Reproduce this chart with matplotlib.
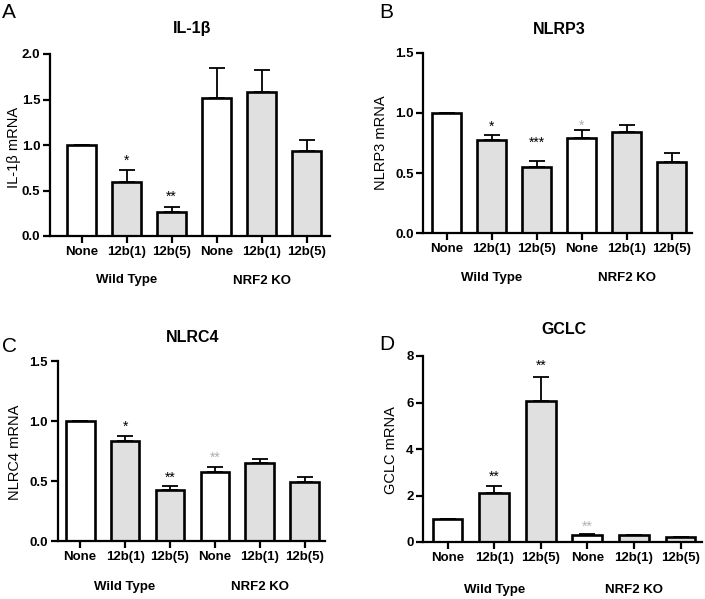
import matplotlib
matplotlib.use("Agg")
import matplotlib.pyplot as plt
import matplotlib.transforms as mtransforms

plt.rcParams['font.family'] = ['Liberation Sans', 'DejaVu Sans']

W, H = 705, 599

categories = ["None", "12b(1)", "12b(5)", "None", "12b(1)", "12b(5)"]
groups = ["Wild Type", "NRF2 KO"]
fill_colors = ["white", "#e0e0e0", "#e0e0e0", "white", "#e0e0e0", "#e0e0e0"]

il1b_vals = [1.0, 0.59, 0.26, 1.52, 1.58, 0.93]
il1b_err = [0.0, 0.13, 0.06, 0.33, 0.245, 0.125]
il1b_stars = [(1, "*", 0.868, "k"), (2, "**", 0.47, "k")]

nlrp3_vals = [1.0, 0.775, 0.548, 0.79, 0.84, 0.595]
nlrp3_err = [0.0, 0.04, 0.05, 0.068, 0.06, 0.068]
nlrp3_stars = [(1, "*", 0.911, "k"), (2, "***", 0.779, "k"), (3, "*", 0.925, "#b0b0b0")]

nlrc4_vals = [1.0, 0.836, 0.425, 0.572, 0.653, 0.489]
nlrc4_err = [0.0, 0.039, 0.031, 0.047, 0.03, 0.047]
nlrc4_stars = [(1, "*", 0.986, "k"), (2, "**", 0.558, "k"), (3, "**", 0.725, "#b0b0b0")]

gclc_vals = [1.0, 2.1, 6.08, 0.3, 0.28, 0.2]
gclc_err = [0.0, 0.33, 1.02, 0.03, 0.03, 0.02]
gclc_stars = [(1, "**", 2.97, "k"), (2, "**", 7.73, "k"), (3, "**", 0.80, "#b0b0b0")]

fig = plt.figure(figsize=(W / 100, H / 100), dpi=100)


def px_axes(x0, x1, ytop, ybot):
    return fig.add_axes([x0 / W, 1 - ybot / H, (x1 - x0) / W, (ybot - ytop) / H])


def ftext(x, y, s, **kw):
    fig.text(x / W, 1 - y / H, s, **kw)


panels = [
    dict(box=(50, 330, 54, 236), xlim=(-0.7, 5.52), ymax=2.0, yticks=[0, 0.5, 1.0, 1.5, 2.0], fmt="{:.1f}",
         vals=il1b_vals, err=il1b_err, stars=il1b_stars, title="IL-1β", title_xy=(192, 28),
         ylabel="IL-1β mRNA", ylabel_xy=(14.5, 147.5), letter="A", letter_xy=(2, 12), group_y=280.5),
    dict(box=(423.3, 692, 52.7, 233.3), xlim=(-0.52, 5.45), ymax=1.5, yticks=[0, 0.5, 1.0, 1.5], fmt="{:.1f}",
         vals=nlrp3_vals, err=nlrp3_err, stars=nlrp3_stars, title="NLRP3", title_xy=(559.5, 29),
         ylabel="NLRP3 mRNA", ylabel_xy=(381, 143), letter="B", letter_xy=(379, 12), group_y=278),
    dict(box=(57.7, 325, 361, 541), xlim=(-0.5, 5.45), ymax=1.5, yticks=[0, 0.5, 1.0, 1.5], fmt="{:.1f}",
         vals=nlrc4_vals, err=nlrc4_err, stars=nlrc4_stars, title="NLRC4", title_xy=(192.5, 338),
         ylabel="NLRC4 mRNA", ylabel_xy=(15, 452), letter="C", letter_xy=(2, 346), group_y=587),
    dict(box=(423.3, 702, 356, 542), xlim=(-0.52, 5.46), ymax=8, yticks=[0, 2, 4, 6, 8], fmt="{:.0f}",
         vals=gclc_vals, err=gclc_err, stars=gclc_stars, title="GCLC", title_xy=(563.7, 329),
         ylabel="GCLC mRNA", ylabel_xy=(391, 450), letter="D", letter_xy=(379, 344.5), group_y=590),
]

xs = list(range(len(categories)))

for p in panels:
    ax = px_axes(*p["box"])
    ax.bar(xs, p["vals"], width=0.64, color=fill_colors, edgecolor="black", linewidth=1.9, zorder=2)
    up = p["err"]
    ax.errorbar(xs, p["vals"], yerr=[[0] * len(up), up], fmt="none", ecolor="black",
                elinewidth=1.3, capsize=5.8, capthick=1.3, zorder=1)
    ax.set_xlim(*p["xlim"])
    ax.set_ylim(0, p["ymax"])
    ax.set_yticks(p["yticks"])
    ax.set_yticklabels([p["fmt"].format(t) for t in p["yticks"]], fontsize=9.5, fontweight="bold")
    ax.set_xticks(xs)
    ax.set_xticklabels(categories, fontsize=9.5, fontweight="bold")
    for s in ["top", "right"]:
        ax.spines[s].set_visible(False)
    for s in ["left", "bottom"]:
        ax.spines[s].set_linewidth(1.6)
    ax.tick_params(axis="both", direction="out", length=5, width=1.6, pad=2)
    ax.patch.set_alpha(0)
    for (i, txt, yv, col) in p["stars"]:
        ax.annotate(txt, xy=(i, yv), xytext=(0, -5.5), textcoords="offset points",
                    ha="center", va="baseline", fontsize=10, color=col, annotation_clip=False)
    trans = mtransforms.blended_transform_factory(ax.transData, fig.transFigure)
    for gi, g in enumerate(groups):
        ax.text(1 + 3 * gi, 1 - p["group_y"] / H, g, transform=trans, ha="center", va="center",
                fontsize=9.5, fontweight="bold")
    ftext(*p["title_xy"], p["title"], ha="center", va="center", fontsize=11.5, fontweight="bold")
    ftext(*p["ylabel_xy"], p["ylabel"], ha="center", va="center", fontsize=10.5, rotation=90)
    ftext(*p["letter_xy"], p["letter"], ha="left", va="center", fontsize=15)

fig.savefig("out.png", dpi=100)
